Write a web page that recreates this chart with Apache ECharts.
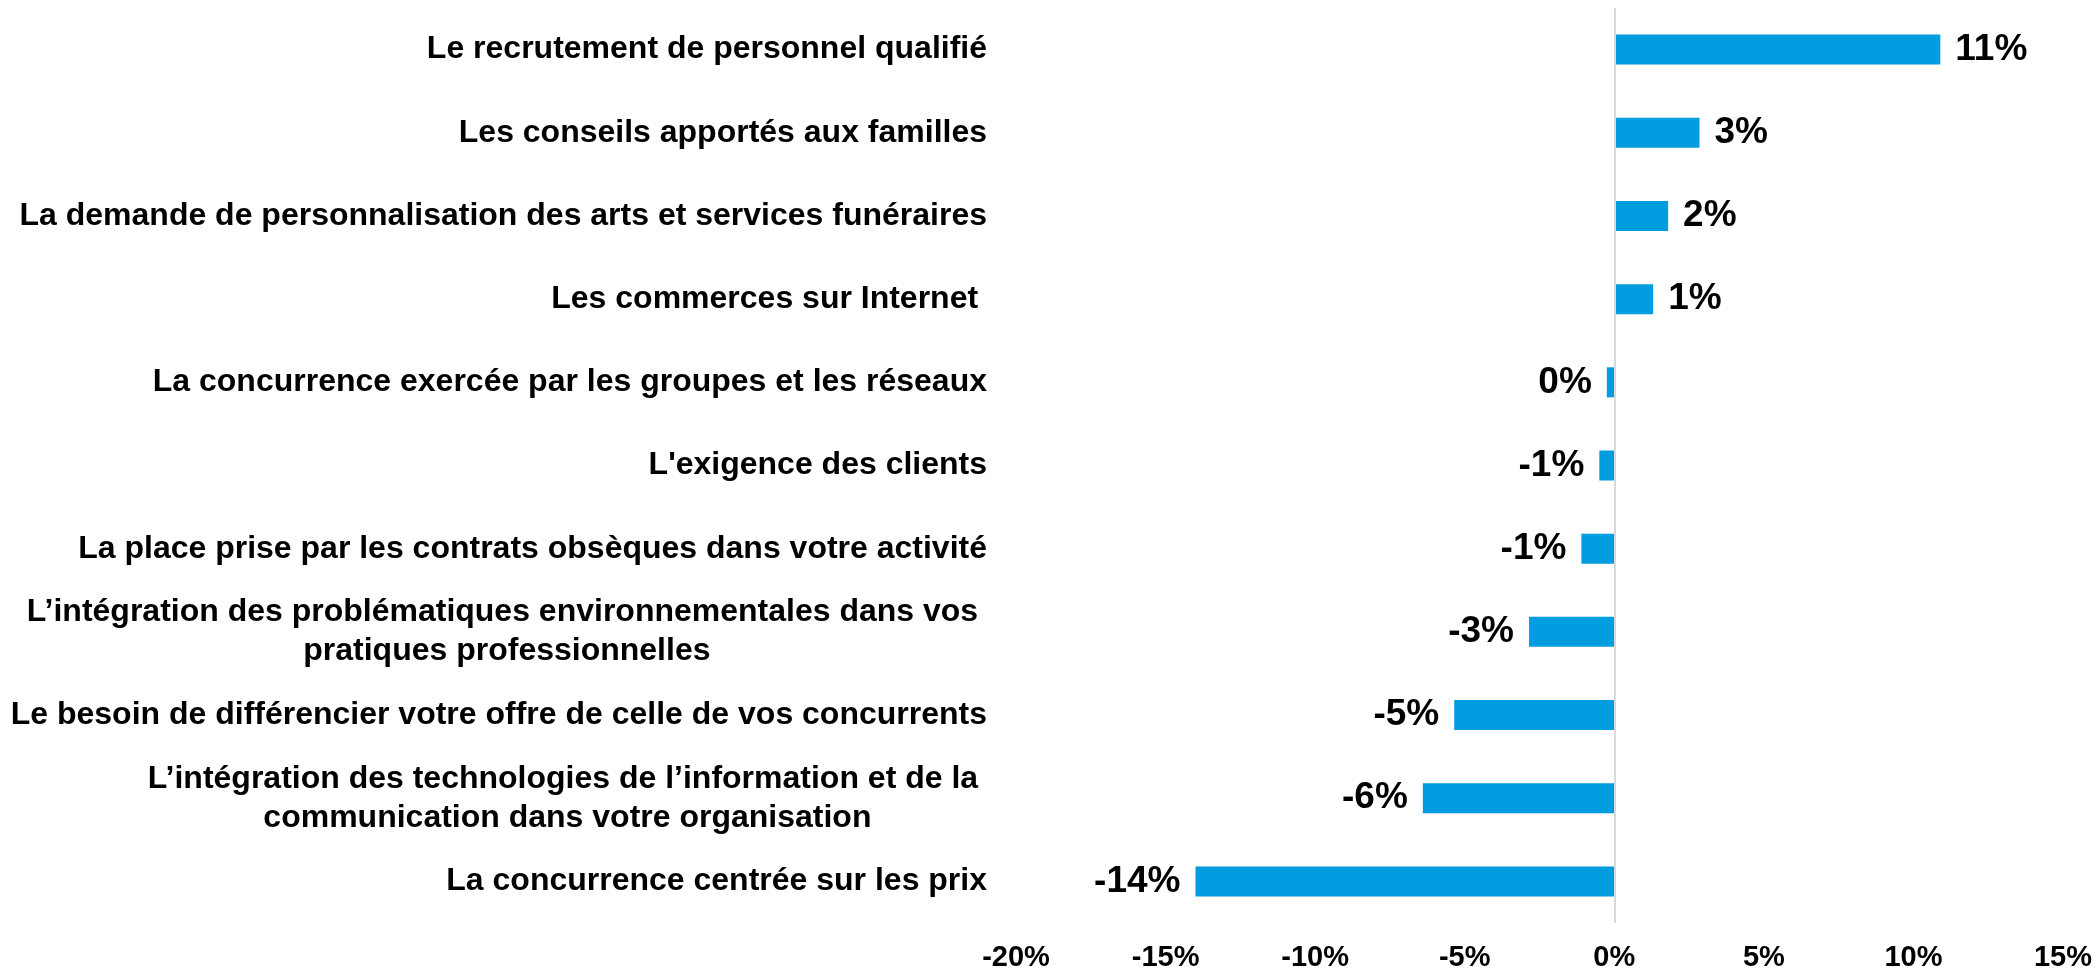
<!DOCTYPE html>
<html>
<head>
<meta charset="utf-8">
<script src="https://cdn.jsdelivr.net/npm/echarts@6/dist/echarts.min.js"></script>
<style>
  html, body { margin: 0; padding: 0; background: #fff; }
  #grid { width: 2095px; height: 972px; }
</style>
</head>
<body>
<div id="grid"></div>
<script>
// categories, top to bottom
let categories = [
    'Le recrutement de personnel qualifié',
    'Les conseils apportés aux familles',
    'La demande de personnalisation des arts et services funéraires',
    'Les commerces sur Internet ',
    'La concurrence exercée par les groupes et les réseaux',
    "L'exigence des clients",
    'La place prise par les contrats obsèques dans votre activité',
    'L’intégration des problématiques environnementales dans vos \npratiques professionnelles',
    'Le besoin de différencier votre offre de celle de vos concurrents',
    'L’intégration des technologies de l’information et de la \ncommunication dans votre organisation',
    'La concurrence centrée sur les prix'
];
let values = [10.9, 2.85, 1.8, 1.3, -0.25, -0.5, -1.1, -2.85, -5.35, -6.4, -14.0];
let shown = ['11%', '3%', '2%', '1%', '0%', '-1%', '-1%', '-3%', '-5%', '-6%', '-14%'];

let font = "'Liberation Sans', Arial, sans-serif";

let barData = values.map(function (v, i) {
    return {
        value: v,
        label: {
            position: v < 0 ? 'left' : 'right',
            formatter: shown[i]
        }
    };
});

option = {
    animation: false,
    backgroundColor: '#fff',
    grid: {
        left: 1016,
        right: 27,
        top: 8,
        bottom: 47
    },
    xAxis: {
        type: 'value',
        min: -20,
        max: 15,
        interval: 5,
        axisLine: { show: false },
        axisTick: { show: false },
        splitLine: { show: false },
        axisLabel: {
            formatter: '{value}%',
            margin: 20,
            color: '#000',
            fontFamily: font,
            fontWeight: 'bold',
            fontSize: 29
        }
    },
    yAxis: {
        type: 'category',
        inverse: true,
        data: categories,
        axisLine: { show: false },
        axisTick: { show: false },
        axisLabel: {
            margin: 29,
            formatter: function (v) {
                return v.split('\n').map(function (s) { return '{c|' + s + '}'; }).join('\n');
            },
            rich: {
                c: {
                    align: 'center',
                    color: '#000',
                    fontFamily: font,
                    fontWeight: 'bold',
                    fontSize: 32,
                    lineHeight: 39
                }
            }
        }
    },
    series: [{
        type: 'bar',
        barWidth: 30,
        itemStyle: { color: '#009ee0' },
        label: {
            show: true,
            distance: 15,
            color: '#000',
            fontFamily: font,
            fontWeight: 'bold',
            fontSize: 37
        },
        data: barData,
        markLine: {
            silent: true,
            symbol: 'none',
            label: { show: false },
            lineStyle: { color: '#d9d9d9', width: 2, type: 'solid' },
            data: [{ xAxis: 0 }]
        }
    }]
};

let myChart = echarts.init(document.getElementById('grid'));
myChart.setOption(option);
</script>
</body>
</html>
